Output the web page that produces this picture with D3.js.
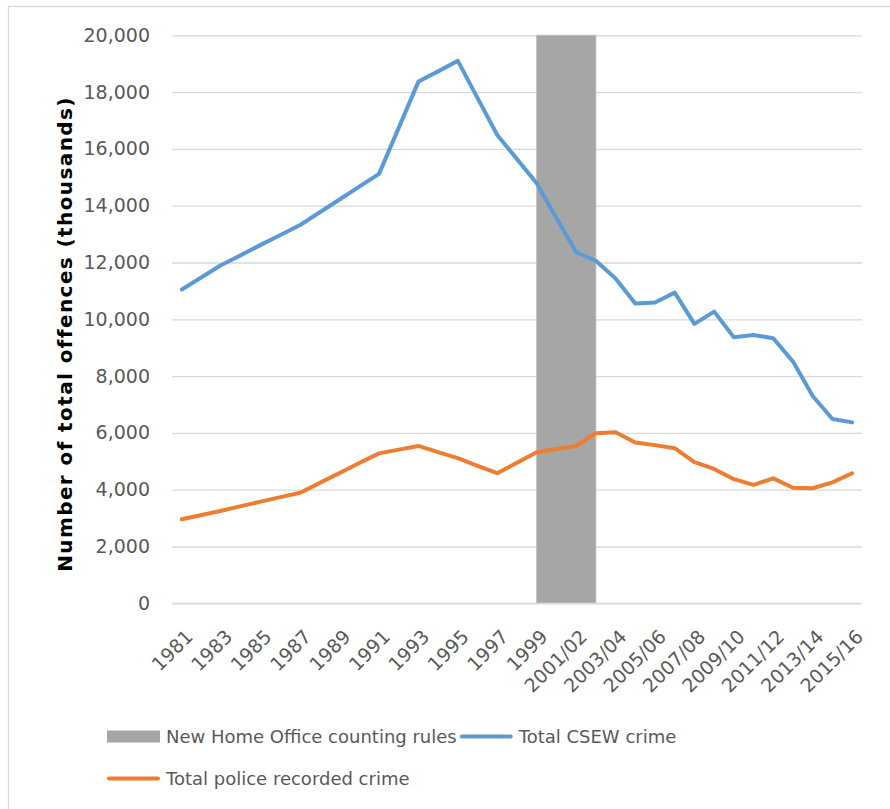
<!DOCTYPE html>
<html>
<head>
<meta charset="utf-8">
<script src="https://cdn.jsdelivr.net/npm/d3@7"></script>
<style>
  html, body { margin: 0; padding: 0; background: #fff; }
  svg { display: block; }
  text { font-family: "DejaVu Sans", sans-serif; }
</style>
</head>
<body>
<svg id="chart" width="890" height="809"></svg>
<script>
// Crime in England and Wales, thousands of offences
const categories = [
  "1981", "1982", "1983", "1984", "1985", "1986", "1987", "1988", "1989", "1990",
  "1991", "1992", "1993", "1994", "1995", "1996", "1997", "1998", "1999", "2000/01",
  "2001/02", "2002/03", "2003/04", "2004/05", "2005/06", "2006/07", "2007/08", "2008/09",
  "2009/10", "2010/11", "2011/12", "2012/13", "2013/14", "2014/15", "2015/16"
];

const csewCrime = [
  11050, 11480, 11910, 12260, 12620, 12970, 13320, 13770, 14220, 14670,
  15120, 16740, 18370, 18730, 19100, 17790, 16490, 15640, 14790, 13570,
  12360, 12060, 11440, 10560, 10590, 10940, 9840, 10270,
  9370, 9450, 9330, 8510, 7300, 6490, 6370
];

const policeRecorded = [
  2960, 3110, 3260, 3420, 3580, 3740, 3890, 4240, 4590, 4940,
  5280, 5410, 5540, 5320, 5110, 4840, 4580, 4950, 5320, 5430,
  5540, 5990, 6020, 5660, 5570, 5460, 4970, 4730,
  4370, 4170, 4400, 4070, 4050, 4260, 4580
];

// Period when the new Home Office counting rules came in
const countingRulesPeriod = ["1999", "2002/03"];
const countingRulesHeight = 20000;

const yTicks = [0, 2000, 4000, 6000, 8000, 10000, 12000, 14000, 16000, 18000, 20000];
const xTickLabels = categories.filter((d, i) => i % 2 === 0);

const seriesNames = {
  rules: "New Home Office counting rules",
  csew: "Total CSEW crime",
  police: "Total police recorded crime"
};
const yTitle = "Number of total offences (thousands)";

const colors = { rules: "#a6a6a6", csew: "#5b9bd5", police: "#ed7d31", grid: "#d9d9d9", text: "#595959" };

const svg = d3.select("#chart");
const plot = { left: 172, right: 862, top: 35.3, bottom: 603.3 };

// outer chart frame
svg.append("rect")
  .attr("x", 8.5).attr("y", 6.5).attr("width", 1000).attr("height", 1000)
  .attr("fill", "none").attr("stroke", colors.grid).attr("stroke-width", 1.3);

const x = d3.scalePoint().domain(categories).range([plot.left, plot.right]).padding(0.5);
const y = d3.scaleLinear().domain([0, 20000]).range([plot.bottom, plot.top]);

// horizontal gridlines + value labels
const yAxis = d3.axisLeft(y).tickValues(yTicks).tickFormat(d3.format(","))
  .tickSize(-(plot.right - plot.left)).tickPadding(22);
const gy = svg.append("g").attr("transform", `translate(${plot.left},0)`).call(yAxis);
gy.select(".domain").remove();
gy.selectAll(".tick line").attr("stroke", colors.grid).attr("stroke-width", 1.3);
gy.selectAll(".tick text").attr("fill", colors.text).attr("font-size", 19)
  .attr("font-family", "DejaVu Sans, sans-serif");

// category axis labels
const xAxis = d3.axisBottom(x).tickValues(xTickLabels).tickSize(0).tickPadding(0);
const gx = svg.append("g").attr("transform", `translate(0,${plot.bottom})`).call(xAxis);
gx.select(".domain").remove();
gx.selectAll(".tick text")
  .attr("fill", colors.text).attr("font-size", 19)
  .attr("font-family", "DejaVu Sans, sans-serif")
  .attr("text-anchor", "end")
  .attr("dy", "0.35em")
  .attr("transform", "translate(7,30) rotate(-45)");

// counting-rules shading
svg.append("rect")
  .attr("x", x(countingRulesPeriod[0]))
  .attr("y", y(countingRulesHeight))
  .attr("width", x(countingRulesPeriod[1]) - x(countingRulesPeriod[0]))
  .attr("height", y(0) - y(countingRulesHeight))
  .attr("fill", colors.rules)
  .attr("stroke", "#bdbdbd").attr("stroke-width", 1);

// zero line on top of the shading
svg.append("line")
  .attr("x1", plot.left).attr("x2", plot.right)
  .attr("y1", y(0)).attr("y2", y(0))
  .attr("stroke", colors.grid).attr("stroke-width", 1.3);

const line = d3.line().x((d, i) => x(categories[i])).y(d => y(d));

svg.append("path").datum(csewCrime)
  .attr("d", line).attr("fill", "none")
  .attr("stroke", colors.csew).attr("stroke-width", 4)
  .attr("stroke-linejoin", "round").attr("stroke-linecap", "round");

svg.append("path").datum(policeRecorded)
  .attr("d", line).attr("fill", "none")
  .attr("stroke", colors.police).attr("stroke-width", 4)
  .attr("stroke-linejoin", "round").attr("stroke-linecap", "round");

// y-axis title
svg.append("text")
  .attr("transform", `translate(72,334) rotate(-90)`)
  .attr("text-anchor", "middle")
  .attr("font-size", 20).attr("font-weight", "bold")
  .attr("letter-spacing", 1.4)
  .attr("fill", "#000")
  .text(yTitle);

// legend
const legend = svg.append("g").attr("font-size", 18).attr("fill", colors.text);
function legendItem(xPos, yPos, key, kind) {
  const g = legend.append("g").attr("transform", `translate(${xPos},${yPos})`);
  if (kind === "rect") {
    g.append("rect").attr("x", 0).attr("y", -6).attr("width", 53).attr("height", 12).attr("fill", colors[key]);
  } else {
    g.append("line").attr("x1", 2).attr("x2", 51).attr("y1", 0).attr("y2", 0)
      .attr("stroke", colors[key]).attr("stroke-width", 4).attr("stroke-linecap", "round");
  }
  const t = g.append("text").attr("x", 59).attr("dy", "0.35em").attr("fill", colors.text).text(seriesNames[key]);
  return xPos + 59 + t.node().getComputedTextLength();
}
const next = legendItem(107, 736.5, "rules", "rect");
legendItem(next + 3, 736.5, "csew", "line");
legendItem(107, 778.5, "police", "line");
</script>
</body>
</html>
